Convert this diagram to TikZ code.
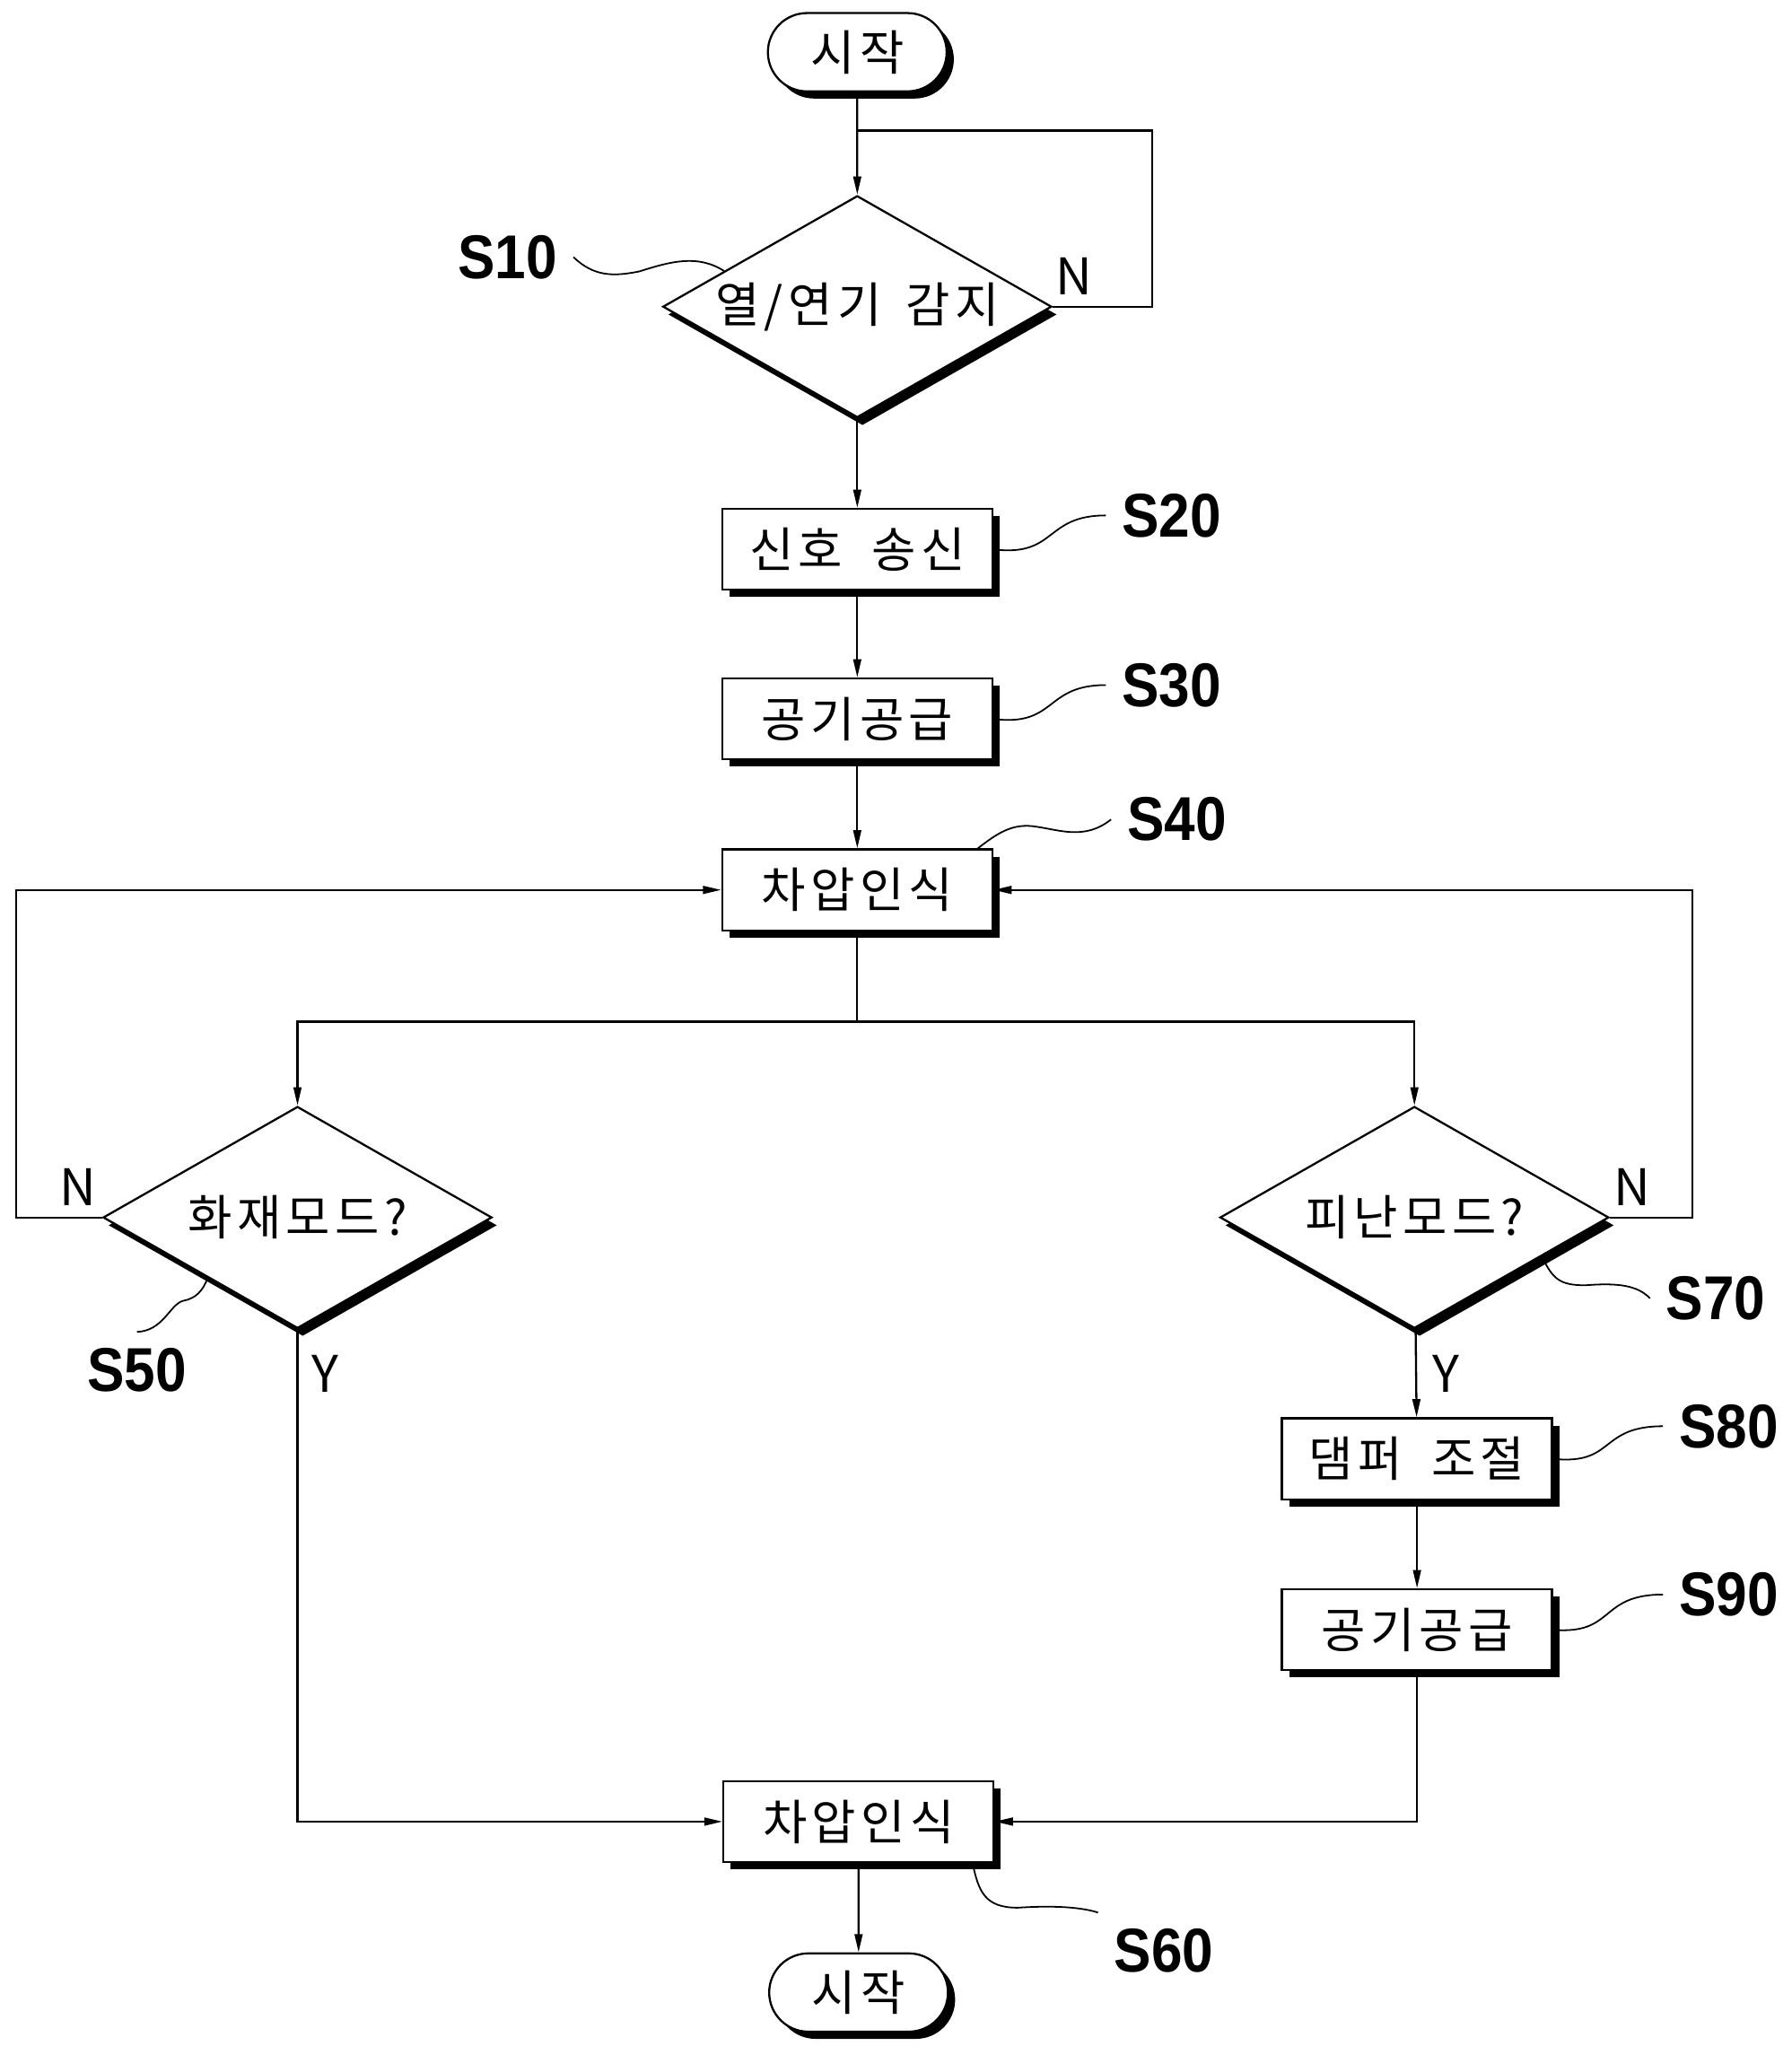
\documentclass[tikz,border=0pt]{standalone}
\usepackage{fontspec}
\setmainfont[LetterSpace=10]{Noto Sans CJK KR}
\newfontfamily\stepfont[FakeStretch=0.9]{Liberation Sans}
\usetikzlibrary{shapes.geometric, shapes.misc, shadows, arrows.meta}
\tikzset{
    shadowed/.style={drop shadow={shadow xshift=0.55mm, shadow yshift=-0.55mm, opacity=1, fill=black}},
    term/.style={draw, fill=white, rounded rectangle, minimum width=13.7mm, minimum height=6mm, inner sep=0pt, shadowed},
    proc/.style={draw, fill=white, minimum width=20.7mm, minimum height=6.2mm, inner sep=0pt, shadowed},
    decide/.style={draw, fill=white, diamond, aspect=1.75, minimum width=29.8mm, minimum height=17mm, inner sep=0pt,
        drop shadow={shadow xshift=0.4mm, shadow yshift=-0.6mm, opacity=1, fill=black}},
    steptag/.style={font=\stepfont\fontsize{13.5}{14}\selectfont\bfseries},
    yesno/.style={font=\fontsize{11}{12}\selectfont},
    leader/.style={line width=0.35pt},
}
\begin{document}
\begin{tikzpicture}[x=0.1mm, y=-0.1mm, line width=0.45pt, >={Triangle[length=1.4mm, width=0.6mm]},
    every node/.style={font=\fontsize{10.5}{12}\selectfont}]
    \useasboundingbox (0,0) rectangle (1373,1568);
    \node [term] (start) at (657,40) {시작};
    \node [decide] (s10) at (657,235) {열/연기\hspace{0.5em}감지};
    \node [proc] (s20) at (657,421) {신호\hspace{0.6em}송신};
    \node [proc] (s30) at (657,551) {공기공급};
    \node [proc] (s40) at (657,682) {차압인식};
    \node [decide] (s50) at (228,933) {화재모드?};
    \node [decide] (s70) at (1084,933) {피난모드?};
    \node [proc] (s80) at (1086,1118) {댐퍼\hspace{0.6em}조절};
    \node [proc] (s90) at (1086,1249) {공기공급};
    \node [proc] (s60) at (658,1396) {차압인식};
    \node [term] (stop) at (658,1527) {시작};

    \node [steptag] (t10) at (389,197) {S10};
    \node [steptag] (t20) at (898,395) {S20};
    \node [steptag] (t30) at (898,525) {S30};
    \node [steptag] (t40) at (902,628) {S40};
    \node [steptag] (t50) at (105,1050) {S50};
    \node [steptag] (t60) at (892,1495) {S60};
    \node [steptag] (t70) at (1315,995) {S70};
    \node [steptag] (t80) at (1325,1093) {S80};
    \node [steptag] (t90) at (1325,1222) {S90};

    \node [yesno] (n10) at (823,212) {N};
    \node [yesno] (n50) at (60,910) {N};
    \node [yesno] (n70) at (1251,910) {N};
    \node [yesno] (y50) at (249,1053) {Y};
    \node [yesno] (y70) at (1108,1053) {Y};

    \coordinate (loop) at (883,100);
    \coordinate (split) at (657,783);
    \draw [->] (start) -- (s10);
    \draw (s10.east) -| (loop) -- (loop -| start.south);
    \draw [->] (s10) -- (s20);
    \draw [->] (s20) -- (s30);
    \draw [->] (s30) -- (s40);
    \draw (s40) -- (split);
    \draw [->] (split) -| (s50);
    \draw [->] (split) -| (s70);
    \draw [->] (s50.west) -- ++(-66,0) |- (s40.west);
    \draw [->] (s70.east) -- ++(63,0) |- (s40.east);
    \draw [->] (s50.south) |- (s60.west);
    \draw [->] (s70) -- (s80);
    \draw [->] (s80) -- (s90);
    \draw [->] (s90.south) |- (s60.east);
    \draw [->] (s60) -- (stop);

    \draw [leader] (t10.east) .. controls (455,212) and (470,212) .. (490,208) .. controls (515,200) and (535,195) .. (s10.165);
    \draw [leader] (s20.east) .. controls (810,427) and (800,395) .. (t20.west);
    \draw [leader] (s30.east) .. controls (810,557) and (800,525) .. (t30.west);
    \draw [leader] (s40.19) .. controls (765,638) and (775,632) .. (790,633) .. controls (810,635) and (830,645) .. (t40.west);
    \draw [leader] (s50.214) .. controls (155,990) and (150,995) .. (140,997) .. controls (130,1000) and (125,1020) .. (t50.north);
    \draw [leader] (s60.-20) .. controls (750,1450) and (755,1462) .. (780,1462) .. controls (810,1460) and (830,1462) .. (t60.north west);
    \draw [leader] (s70.343) .. controls (1190,980) and (1195,985) .. (1215,985) .. controls (1240,983) and (1255,985) .. (t70.west);
    \draw [leader] (s80.east) .. controls (1238,1123) and (1225,1093) .. (t80.west);
    \draw [leader] (s90.east) .. controls (1238,1253) and (1225,1222) .. (t90.west);
\end{tikzpicture}
\end{document}
